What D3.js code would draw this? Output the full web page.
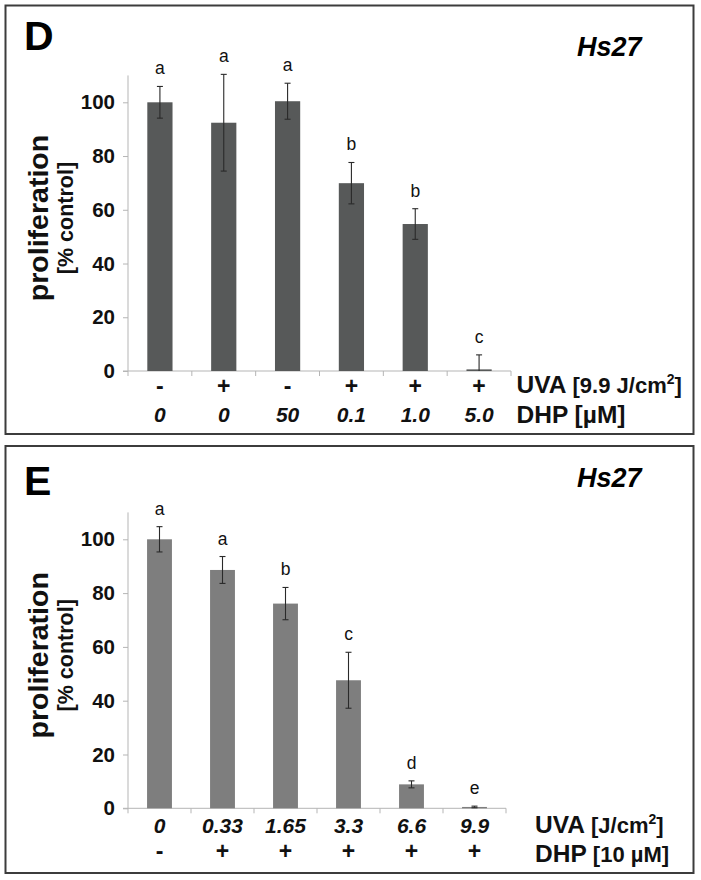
<!DOCTYPE html>
<html><head><meta charset="utf-8">
<script src="https://cdn.jsdelivr.net/npm/d3@7/dist/d3.min.js"></script>
<style>body{margin:0;background:#fff} text{font-family:"Liberation Sans",Arial,sans-serif}</style>
</head><body><svg id="c" width="701" height="880"></svg>
<script>
// ---- data ----
const yTicks = [0, 20, 40, 60, 80, 100];
const yMax = 110;
// Panel D
const dUva = ["-", "+", "-", "+", "+", "+"];
const dDhp = ["0", "0", "50", "0.1", "1.0", "5.0"];
const dValues = [100, 92.4, 100.4, 69.9, 54.7, 0.6];
const dErrors = [5.9, 18, 6.7, 7.7, 5.7, 5.4];
const dLetters = ["a", "a", "a", "b", "b", "c"];
// Panel E
const eUva = ["0", "0.33", "1.65", "3.3", "6.6", "9.9"];
const eDhp = ["-", "+", "+", "+", "+", "+"];
const eValues = [100, 88.6, 76.1, 47.6, 8.9, 0.5];
const eErrors = [4.7, 5, 6, 10.4, 1.3, 0.3];
const eLetters = ["a", "a", "b", "c", "d", "e"];

const svg = d3.select("#c");

function panel(o) {
  const g = svg.append("g");
  g.append("rect").attr("x", o.frame[0]).attr("y", o.frame[1]).attr("width", o.frame[2]).attr("height", o.frame[3])
    .attr("fill", "none").attr("stroke", "#3c3c3c").attr("stroke-width", 2);

  const idx = o.values.map((d, i) => i);
  const x = d3.scaleBand().domain(idx).range([o.x0, o.x1]).paddingInner(0.605).paddingOuter(0.3025);
  const y = d3.scaleLinear().domain([0, yMax]).range([o.y0, o.yTop]);

  // y axis
  const ya = g.append("g").attr("transform", `translate(${o.x0},0)`)
    .call(d3.axisLeft(y).tickValues(yTicks).tickSize(5).tickPadding(8).tickFormat(d3.format("d")));
  ya.select(".domain").attr("stroke", "#b5b5b5").attr("d", `M-5,${y(0)}H0V${y(yMax)}`);
  ya.selectAll(".tick line").attr("stroke", "#b5b5b5");
  ya.selectAll(".tick text").attr("font-size", 20.5).attr("font-weight", "bold").attr("fill", "#111")
    .attr("font-family", "Liberation Sans, Arial, sans-serif");

  // x axis line + boundary ticks
  const step = x.step();
  const bounds = d3.range(idx.length + 1).map(i => o.x0 + i * step);
  g.append("line").attr("x1", o.x0).attr("x2", o.x1).attr("y1", y(0)).attr("y2", y(0)).attr("stroke", "#b5b5b5");
  g.selectAll(".xt").data(bounds).join("line").attr("x1", d => d).attr("x2", d => d)
    .attr("y1", y(0)).attr("y2", y(0) + 5).attr("stroke", "#b5b5b5");

  // bars
  g.selectAll(".bar").data(o.values).join("rect")
    .attr("x", (d, i) => x(i)).attr("width", x.bandwidth())
    .attr("y", d => y(d)).attr("height", d => y(0) - y(d)).attr("fill", o.color);

  // error bars
  const eg = g.selectAll(".err").data(o.values).join("g");
  const cx = i => x(i) + x.bandwidth() / 2;
  eg.append("line").attr("x1", (d, i) => cx(i)).attr("x2", (d, i) => cx(i))
    .attr("y1", (d, i) => y(d + o.errors[i])).attr("y2", (d, i) => y(Math.max(0, d - o.errors[i])))
    .attr("stroke", "#2a2a2a").attr("stroke-width", 1.1);
  eg.append("line").attr("x1", (d, i) => cx(i) - 3).attr("x2", (d, i) => cx(i) + 3)
    .attr("y1", (d, i) => y(d + o.errors[i])).attr("y2", (d, i) => y(d + o.errors[i]))
    .attr("stroke", "#2a2a2a").attr("stroke-width", 1.1);
  eg.filter((d, i) => d - o.errors[i] > 0).append("line").attr("x1", (d, i) => cx(i) - 3).attr("x2", (d, i) => cx(i) + 3)
    .attr("y1", (d, i) => y(d - o.errors[i])).attr("y2", (d, i) => y(d - o.errors[i]))
    .attr("stroke", "#2a2a2a").attr("stroke-width", 1.1);

  // significance letters
  g.selectAll(".let").data(o.letters).join("text")
    .attr("x", (d, i) => cx(i)).attr("y", (d, i) => y(o.values[i] + o.errors[i]) - 12)
    .attr("text-anchor", "middle").attr("font-size", 17.5).attr("fill", "#111").text(d => d);

  // category rows
  o.rows.forEach(r => {
    g.selectAll(null).data(r.labels).join("text")
      .attr("x", (d, i) => cx(i)).attr("y", r.y).attr("text-anchor", "middle")
      .attr("font-size", r.italic ? 21 : 23).attr("font-weight", "bold").attr("font-style", r.italic ? "italic" : "normal")
      .attr("fill", "#111").text(d => d);
  });

  // right-side row titles
  o.titles.forEach(t => {
    const tx = g.append("text").attr("x", o.tx).attr("y", t.y).attr("font-weight", "bold").attr("fill", "#111");
    tx.append("tspan").attr("font-size", 24.5).text(t.main);
    if (t.unit) tx.append("tspan").attr("font-size", t.unitSize || 22).text(" " + t.unit);
    if (t.sup) {
      tx.append("tspan").attr("font-size", 14).attr("dy", -9).text(t.sup);
      tx.append("tspan").attr("font-size", 22).attr("dy", 9).text(t.after);
    }
  });

  // y title
  const yc = o.y0 - 153;
  g.append("text").attr("transform", `translate(48,${yc}) rotate(-90)`).attr("text-anchor", "middle")
    .attr("font-size", 28.5).attr("font-weight", "bold").attr("fill", "#111").text("proliferation");
  g.append("text").attr("transform", `translate(73,${yc}) rotate(-90)`).attr("text-anchor", "middle")
    .attr("font-size", 21.5).attr("font-weight", "bold").attr("fill", "#111").text("[% control]");

  // panel letter and cell line
  g.append("text").attr("x", 24).attr("y", o.letterY).attr("font-size", 41).attr("font-weight", "bold")
    .attr("fill", "#000").text(o.letter);
  g.append("text").attr("x", 577).attr("y", o.hsY).attr("font-size", 27).attr("font-weight", "bold")
    .attr("font-style", "italic").attr("fill", "#000").text("Hs27");
}

panel({
  frame: [5.5, 5.5, 688, 428.5], x0: 128, x1: 511, y0: 371, yTop: 371 - 110 * 2.687,
  values: dValues, errors: dErrors, letters: dLetters, color: "#575959",
  rows: [{labels: dUva, y: 394, italic: false}, {labels: dDhp, y: 422, italic: true}],
  tx: 516.5,
  titles: [{main: "UVA", unit: "[9.9 J/cm", sup: "2", after: "]", y: 393.3},
           {main: "DHP", unit: "[µM]", unitSize: 24.5, y: 423.3}],
  letter: "D", letterY: 50, hsY: 56
});

panel({
  frame: [5.5, 446, 688, 427], x0: 128, x1: 506, y0: 808.3, yTop: 808.3 - 110 * 2.69,
  values: eValues, errors: eErrors, letters: eLetters, color: "#7e7e7e",
  rows: [{labels: eUva, y: 833.3, italic: true}, {labels: eDhp, y: 858.5, italic: false}],
  tx: 535,
  titles: [{main: "UVA", unit: "[J/cm", sup: "2", after: "]", y: 833.3},
           {main: "DHP", unit: "[10 µM]", y: 861.7}],
  letter: "E", letterY: 495, hsY: 486.7
});
</script></body></html>
